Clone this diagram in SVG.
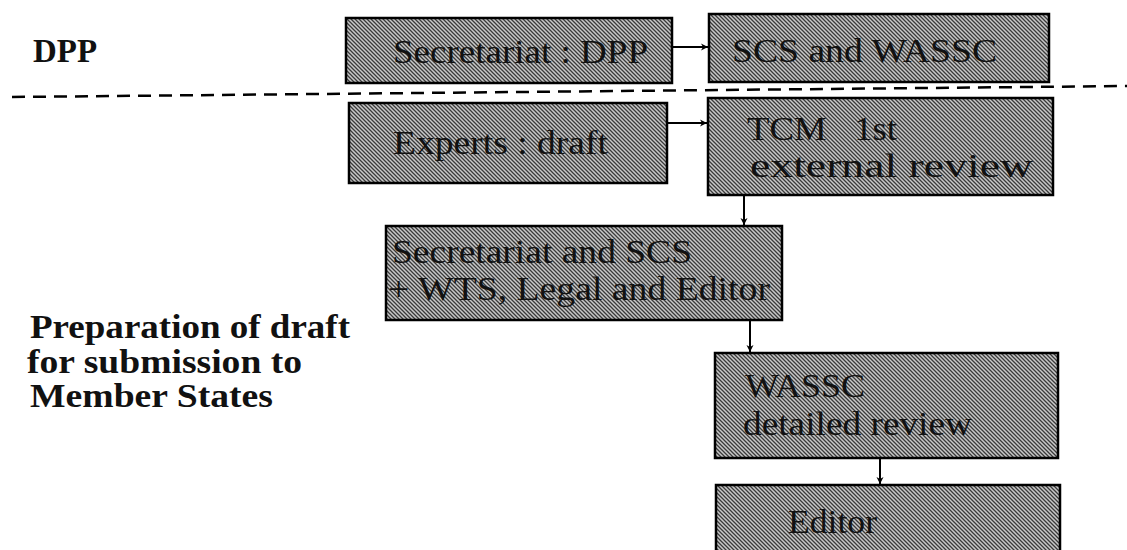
<svg xmlns="http://www.w3.org/2000/svg" width="1127" height="550" viewBox="0 0 1127 550">
<style>
.box{fill:url(#hatch);stroke:#000;stroke-width:2.5}
.bt{font-family:"Liberation Serif","Times New Roman",serif;font-size:34px;fill:#111}
.lb{font-family:"Liberation Serif","Times New Roman",serif;font-weight:bold;font-size:34px;fill:#111}
.con{stroke:#000;stroke-width:2;fill:none}
.dash{stroke:#000;stroke-width:2.5;stroke-dasharray:13 8;fill:none}
</style>
<defs>
<pattern id="hatch" patternUnits="userSpaceOnUse" width="4" height="4">
<rect width="4" height="4" fill="#c8c8c8"/>
<path d="M-1,1 L1,-1 M0,4 L4,0 M3,5 L5,3" stroke="#3a3a3a" stroke-width="1.3" transform="scale(-1,1) translate(-4,0)"/>
</pattern>
<marker id="ah" markerWidth="8" markerHeight="8" refX="7" refY="4" orient="auto" markerUnits="userSpaceOnUse">
<path d="M0,0.5 L7,4 L0,7.5 L2,4 Z" fill="#000"/>
</marker>
</defs>
<rect width="1127" height="550" fill="#fff"/>
<g id="labels">
<text class="lb" x="33" y="62" textLength="64" lengthAdjust="spacingAndGlyphs">DPP</text>
<text class="lb" x="30" y="338" textLength="320" lengthAdjust="spacingAndGlyphs">Preparation of draft</text>
<text class="lb" x="27" y="373" textLength="275" lengthAdjust="spacingAndGlyphs">for submission to</text>
<text class="lb" x="30" y="407" textLength="243" lengthAdjust="spacingAndGlyphs">Member States</text>
</g>
<path class="dash" d="M12,97 L1127,86"/>
<g id="n1"><rect class="box" x="346" y="18" width="326" height="65"/>
<text class="bt" x="393" y="63" textLength="255" lengthAdjust="spacingAndGlyphs">Secretariat : DPP</text></g>
<g id="n2"><rect class="box" x="709" y="14" width="340" height="68"/>
<text class="bt" x="732" y="62" textLength="265" lengthAdjust="spacingAndGlyphs">SCS and WASSC</text></g>
<g id="n3"><rect class="box" x="349" y="103" width="318" height="80"/>
<text class="bt" x="393" y="154" textLength="215" lengthAdjust="spacingAndGlyphs">Experts : draft</text></g>
<g id="n4"><rect class="box" x="708" y="98" width="345" height="97"/>
<text class="bt" x="747" y="140" textLength="150" lengthAdjust="spacingAndGlyphs" style="white-space:pre">TCM   1st</text>
<text class="bt" x="750" y="177" textLength="283" lengthAdjust="spacingAndGlyphs">external review</text></g>
<g id="n5"><rect class="box" x="386" y="226" width="396" height="94"/>
<text class="bt" x="392" y="263" textLength="300" lengthAdjust="spacingAndGlyphs">Secretariat and SCS</text>
<text class="bt" x="388" y="300" textLength="382" lengthAdjust="spacingAndGlyphs">+ WTS, Legal and Editor</text></g>
<g id="n6"><rect class="box" x="715" y="353" width="343" height="105"/>
<text class="bt" x="745" y="397" textLength="120" lengthAdjust="spacingAndGlyphs">WASSC</text>
<text class="bt" x="743" y="435" textLength="229" lengthAdjust="spacingAndGlyphs">detailed review</text></g>
<g id="n7"><rect class="box" x="716" y="485" width="344" height="80"/>
<text class="bt" x="788" y="533" textLength="89" lengthAdjust="spacingAndGlyphs">Editor</text></g>
<g id="connectors">
<path class="con" d="M672,47 L708,47" marker-end="url(#ah)"/>
<path class="con" d="M667,123 L707,123" marker-end="url(#ah)"/>
<path class="con" d="M744,195 L744,225" marker-end="url(#ah)"/>
<path class="con" d="M750,320 L750,352" marker-end="url(#ah)"/>
<path class="con" d="M880,458 L880,484" marker-end="url(#ah)"/>
</g>
</svg>
